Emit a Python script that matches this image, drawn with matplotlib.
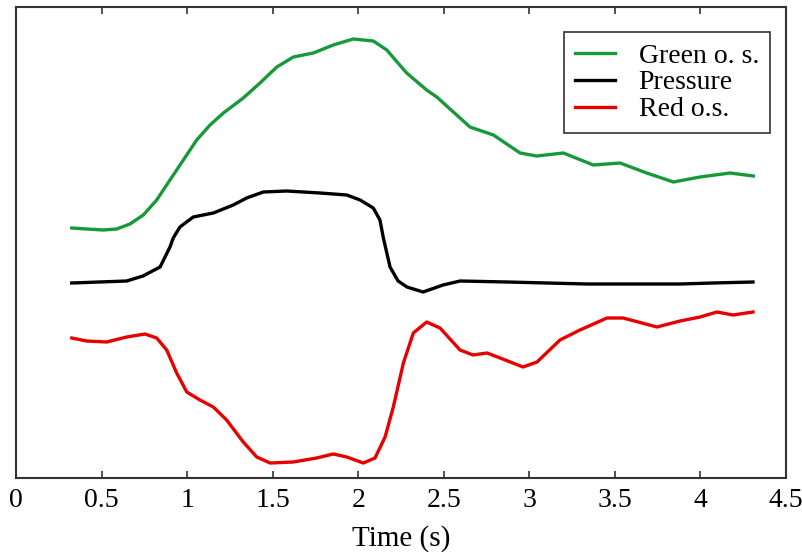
import matplotlib.pyplot as plt

# Readings (time in s, signal in arbitrary units)
green_t = [0.326, 0.413, 0.510, 0.589, 0.666, 0.744, 0.822, 0.900, 0.978, 1.056,
           1.134, 1.212, 1.328, 1.426, 1.524, 1.621, 1.738, 1.854, 1.971, 2.088,
           2.167, 2.283, 2.400, 2.459, 2.653, 2.790, 2.946, 3.043, 3.199, 3.374,
           3.530, 3.686, 3.842, 3.998, 4.173, 4.309]
green_y = [250, 249, 248, 249, 254, 263, 278, 298, 318, 338,
           353, 365, 380, 395, 411, 421, 425, 433, 439, 437,
           428, 405, 388, 381, 351, 343, 325, 322, 325, 313,
           315, 305, 296, 301, 305, 302]

pressure_t = [0.326, 0.647, 0.742, 0.842, 0.900, 0.919, 0.958, 1.036, 1.153, 1.270,
              1.348, 1.445, 1.582, 1.777, 1.933, 2.011, 2.088, 2.127, 2.147, 2.186,
              2.233, 2.285, 2.379, 2.496, 2.595, 2.870, 3.337, 3.881, 4.074, 4.307]
pressure_y = [195, 197, 202, 211, 231, 240, 251, 261, 265, 273,
              280, 286, 287, 285, 283, 278, 270, 258, 240, 211,
              197, 191, 186, 193, 197, 196, 194, 194, 195, 196]

red_t = [0.326, 0.413, 0.530, 0.647, 0.754, 0.822, 0.881, 0.939, 0.998, 1.075,
         1.153, 1.231, 1.328, 1.407, 1.485, 1.621, 1.757, 1.854, 1.933, 2.030,
         2.098, 2.157, 2.205, 2.264, 2.322, 2.400, 2.478, 2.595, 2.671, 2.753,
         2.829, 2.963, 3.045, 3.179, 3.296, 3.454, 3.548, 3.746, 3.881, 3.998,
         4.097, 4.191, 4.307]
red_y = [140, 137, 136, 141, 144, 140, 128, 105, 86, 78,
         71, 58, 36, 21, 15, 16, 20, 24, 21, 15,
         20, 41, 71, 115, 145, 156, 150, 128, 123, 125,
         120, 111, 116, 138, 148, 160, 160, 151, 157, 161,
         166, 163, 166]

xticks = [0, 0.5, 1, 1.5, 2, 2.5, 3, 3.5, 4, 4.5]
xtick_labels = ['0', '0.5', '1', '1.5', '2', '2.5', '3', '3.5', '4', '4.5']

plt.rcParams['font.family'] = ['Liberation Serif', 'DejaVu Serif']

fig = plt.figure(figsize=(8.03, 5.52), dpi=100)
ax = fig.add_axes([16 / 803, 1 - 478 / 552, 770 / 803, 471 / 552])

ax.plot(green_t, green_y, color='#17993a', lw=2.4, label='Green o. s.')
ax.plot(pressure_t, pressure_y, color='black', lw=2.4, label='Pressure')
ax.plot(red_t, red_y, color='#e80000', lw=2.4, label='Red o.s.')

ax.set_xlim(0, 4.5)
ax.set_ylim(0, 471)
ax.set_xticks(xticks)
ax.set_xticklabels(xtick_labels, fontsize=20)
ax.set_yticks([])
ax.tick_params(axis='x', direction='in', top=True, length=5, width=1.2,
               color='#333333', pad=7)
for s in ax.spines.values():
    s.set_linewidth(1.5)
    s.set_color('#333333')

ax.set_xlabel('Time (s)', fontsize=21, labelpad=9)

leg = ax.legend(loc='upper right', bbox_to_anchor=(754 / 770, 446 / 471),
                borderaxespad=0, fancybox=False, framealpha=1, edgecolor='#333333',
                fontsize=20, handlelength=1.45, handletextpad=0.85,
                labelspacing=0.05, borderpad=0.4)
leg.get_frame().set_linewidth(1.2)

fig.savefig('out.png', dpi=100)
